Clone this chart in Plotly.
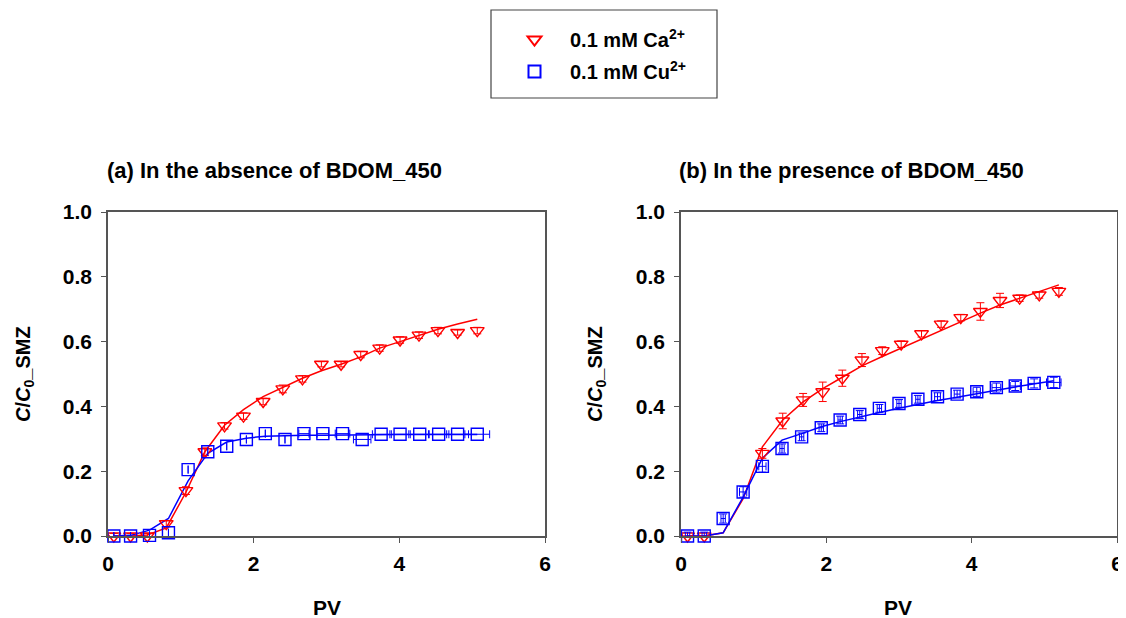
import plotly.graph_objects as go

# ---------------- data ----------------
# Panel (a): absence of BDOM_450
a_ca_pv = [0.08, 0.31, 0.54, 0.80, 1.07, 1.33, 1.60, 1.86, 2.13, 2.40, 2.67, 2.93, 3.20, 3.47, 3.73, 4.01, 4.27, 4.53, 4.80, 5.07]
a_ca_c = [0.0, 0.0, 0.0, 0.038, 0.14, 0.26, 0.34, 0.37, 0.415, 0.454, 0.485, 0.53, 0.53, 0.56, 0.58, 0.605, 0.62, 0.634, 0.628, 0.634]
a_ca_err = [0.008, 0.008, 0.008, 0.01, 0.012, 0.012, 0.01, 0.01, 0.01, 0.012, 0.01, 0.008, 0.008, 0.01, 0.01, 0.01, 0.01, 0.01, 0.008, 0.01]
a_ca_fit = [0.0, 0.0, 0.003, 0.025, 0.135, 0.26, 0.342, 0.39, 0.43, 0.458, 0.487, 0.51, 0.53, 0.553, 0.58, 0.6, 0.62, 0.638, 0.654, 0.669]

a_cu_pv = [0.08, 0.31, 0.57, 0.83, 1.10, 1.37, 1.63, 1.90, 2.16, 2.43, 2.69, 2.95, 3.22, 3.49, 3.75, 4.01, 4.28, 4.54, 4.80, 5.07]
a_cu_c = [0.0, 0.0, 0.002, 0.01, 0.205, 0.26, 0.277, 0.298, 0.316, 0.298, 0.316, 0.316, 0.316, 0.298, 0.314, 0.314, 0.314, 0.314, 0.314, 0.314]
a_cu_xerr = [0, 0, 0, 0, 0, 0, 0, 0, 0, 0, 0.07, 0.08, 0.1, 0.12, 0.12, 0.12, 0.13, 0.14, 0.15, 0.17]
a_cu_fit = [0.0, 0.002, 0.018, 0.054, 0.17, 0.255, 0.29, 0.302, 0.308, 0.31, 0.311, 0.311, 0.312, 0.312, 0.312, 0.313, 0.313, 0.313, 0.313, 0.313]

# Panel (b): presence of BDOM_450
b_ca_pv = [0.09, 0.32, 1.12, 1.40, 1.68, 1.95, 2.22, 2.49, 2.77, 3.03, 3.31, 3.58, 3.85, 4.12, 4.39, 4.66, 4.93, 5.20]
b_ca_c = [0.0, 0.0, 0.255, 0.355, 0.42, 0.445, 0.487, 0.543, 0.572, 0.592, 0.624, 0.654, 0.674, 0.693, 0.727, 0.734, 0.744, 0.755]
b_ca_err = [0.0, 0.0, 0.015, 0.024, 0.02, 0.03, 0.025, 0.02, 0.012, 0.01, 0.01, 0.01, 0.01, 0.027, 0.022, 0.01, 0.01, 0.012]
b_ca_fit_pv = [0.09, 0.32, 0.58, 0.855, 1.12, 1.40, 1.68, 1.95, 2.22, 2.49, 2.77, 3.03, 3.31, 3.58, 3.85, 4.12, 4.39, 4.66, 4.93, 5.20]
b_ca_fit = [0.0, 0.0, 0.01, 0.115, 0.275, 0.358, 0.414, 0.455, 0.49, 0.525, 0.554, 0.58, 0.608, 0.636, 0.662, 0.688, 0.713, 0.734, 0.755, 0.775]

b_cu_pv = [0.09, 0.32, 0.58, 0.855, 1.12, 1.39, 1.66, 1.93, 2.19, 2.46, 2.73, 3.00, 3.26, 3.53, 3.80, 4.07, 4.34, 4.60, 4.86, 5.13]
b_cu_c = [0.0, 0.0, 0.054, 0.136, 0.215, 0.27, 0.306, 0.334, 0.358, 0.375, 0.394, 0.409, 0.422, 0.43, 0.438, 0.445, 0.458, 0.463, 0.471, 0.474]
b_cu_yerr = [0.012, 0.012, 0.014, 0.016, 0.018, 0.014, 0.012, 0.012, 0.012, 0.012, 0.012, 0.012, 0.012, 0.012, 0.012, 0.014, 0.014, 0.014, 0.014, 0.016]
b_cu_xerr = [0.03, 0.03, 0.03, 0.05, 0.05, 0.03, 0.03, 0.03, 0.03, 0.03, 0.03, 0.03, 0.03, 0.04, 0.04, 0.05, 0.06, 0.07, 0.08, 0.1]
b_cu_fit = [0.0, 0.0, 0.01, 0.12, 0.24, 0.296, 0.316, 0.337, 0.353, 0.368, 0.381, 0.394, 0.406, 0.418, 0.428, 0.44, 0.45, 0.46, 0.47, 0.479]

x_ticks = [0, 2, 4, 6]
y_ticks = [0.0, 0.2, 0.4, 0.6, 0.8, 1.0]
titles = ["(a) In the absence of BDOM_450", "(b) In the presence of BDOM_450"]
legend_names = ["0.1 mM Ca<sup>2+</sup>", "0.1 mM Cu<sup>2+</sup>"]
x_title = "PV"
y_title = "<i>C</i>/<i>C</i><sub>0</sub>_SMZ"

RED = "#FF0000"
BLUE = "#0000FF"
FONT = "Liberation Sans, Arial, sans-serif"

# page body has an 8px margin: figure is sized to fit the window, coordinates offset
OFF = 8
W, H = 1126 - OFF, 618 - OFF


def px(x):
    return (x - OFF) / W


def py(y):
    return 1 - (y - OFF) / H


fig = go.Figure()


def add_pts(x, y, color, symbol, xa, ya, name, show, group, yerr=None, xerr=None):
    kw = {}
    if yerr is not None:
        kw["error_y"] = dict(type="data", array=yerr, color=color, thickness=1, width=4, visible=True)
    if xerr is not None:
        kw["error_x"] = dict(type="data", array=xerr, color=color, thickness=1, width=4, visible=True)
    fig.add_trace(go.Scatter(
        x=x, y=y, mode="markers", name=f"<b>{name}</b>", showlegend=show, legendgroup=group,
        marker=dict(symbol=symbol, size=12, color=color, line=dict(color=color, width=1.4)),
        xaxis=xa, yaxis=ya, cliponaxis=False, **kw))


def add_line(x, y, color, xa, ya):
    fig.add_trace(go.Scatter(x=x, y=y, mode="lines", line=dict(color=color, width=1.5),
                             showlegend=False, xaxis=xa, yaxis=ya, cliponaxis=False, hoverinfo="skip"))


# panel a
add_line(a_ca_pv, a_ca_fit, RED, "x", "y")
add_line(a_cu_pv, a_cu_fit, BLUE, "x", "y")
add_pts(a_ca_pv, a_ca_c, RED, "triangle-down-open", "x", "y", legend_names[0], True, "ca", yerr=a_ca_err)
add_pts(a_cu_pv, a_cu_c, BLUE, "square-open", "x", "y", legend_names[1], True, "cu", xerr=a_cu_xerr)
# panel b
add_line(b_ca_fit_pv, b_ca_fit, RED, "x2", "y2")
add_line(b_cu_pv, b_cu_fit, BLUE, "x2", "y2")
add_pts(b_ca_pv, b_ca_c, RED, "triangle-down-open", "x2", "y2", legend_names[0], False, "ca", yerr=b_ca_err)
add_pts(b_cu_pv, b_cu_c, BLUE, "square-open", "x2", "y2", legend_names[1], False, "cu", yerr=b_cu_yerr, xerr=b_cu_xerr)

axis_common = dict(showline=True, linecolor="#555555", linewidth=1.5, mirror=True,
                   ticks="outside", ticklen=5, tickwidth=1.2, tickcolor="#555555",
                   showgrid=False, zeroline=False, automargin=False,
                   tickfont=dict(family=FONT, size=21, color="black"))

xa_dom = [px(108), px(545)]
xb_dom = [px(681), px(1117)]
dom_y = [py(536), py(212)]
fig.update_layout(
    width=W, height=H,
    margin=dict(l=0, r=0, t=0, b=0),
    paper_bgcolor="white", plot_bgcolor="white",
    font=dict(family=FONT, color="black"),
    xaxis=dict(domain=xa_dom, range=[0, 6], tickvals=x_ticks, ticktext=[f"<b>{v}</b>" for v in x_ticks],
               anchor="y", ticklabelstandoff=3, **axis_common),
    yaxis=dict(domain=dom_y, range=[0, 1], tickvals=y_ticks, ticktext=[f"<b>{v:.1f}</b>" for v in y_ticks],
               anchor="x", ticklabelstandoff=5, **axis_common),
    xaxis2=dict(domain=xb_dom, range=[0, 6], tickvals=x_ticks, ticktext=[f"<b>{v}</b>" for v in x_ticks],
                anchor="y2", ticklabelstandoff=3, **axis_common),
    yaxis2=dict(domain=dom_y, range=[0, 1], tickvals=y_ticks, ticktext=[f"<b>{v:.1f}</b>" for v in y_ticks],
                anchor="x2", ticklabelstandoff=5, **axis_common),
    legend=dict(x=px(499), y=py(20), xanchor="left", yanchor="top", bgcolor="rgba(0,0,0,0)",
                borderwidth=0, font=dict(family=FONT, size=20, color="black"),
                tracegroupgap=3, itemwidth=61, itemsizing="constant"),
    showlegend=True,
)

# legend frame
fig.add_shape(type="rect", xref="paper", yref="paper", x0=px(491), x1=px(717), y0=py(98), y1=py(10),
              line=dict(color="#444444", width=1.2), fillcolor="rgba(0,0,0,0)")

# panel titles
for tx, t in zip([105, 677], titles):
    fig.add_annotation(text=f"<b>{t}</b>", xref="paper", yref="paper", x=px(tx), y=py(170),
                       xanchor="left", yanchor="middle", showarrow=False, font=dict(family=FONT, size=22))

# axis titles
for cx in [327, 898]:
    fig.add_annotation(text=f"<b>{x_title}</b>", xref="paper", yref="paper", x=px(cx), y=py(607),
                       xanchor="center", yanchor="middle", showarrow=False, font=dict(family=FONT, size=21))
for cx in [24, 596]:
    fig.add_annotation(text=f"<b>{y_title}</b>", xref="paper", yref="paper", x=px(cx), y=py(374),
                       xanchor="center", yanchor="middle", showarrow=False, textangle=-90,
                       font=dict(family=FONT, size=20))

fig.write_html("out.html")
